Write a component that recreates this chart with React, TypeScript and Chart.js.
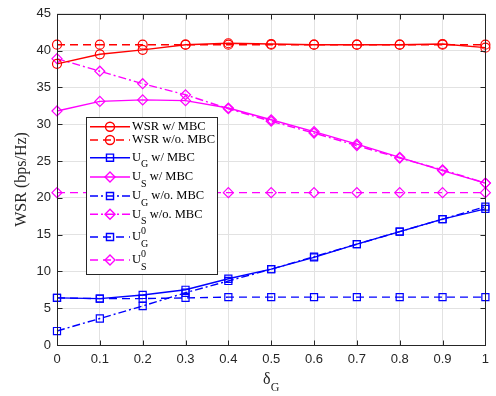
import React, { useEffect, useRef } from 'react';
import { Chart, registerables } from 'chart.js';

Chart.register(...registerables);

// ---- data ----
const deltaG = ['0', '0.1', '0.2', '0.3', '0.4', '0.5', '0.6', '0.7', '0.8', '0.9', '1'];
const yTicks = [0, 5, 10, 15, 20, 25, 30, 35, 40, 45];
const wsrWithMBC = [38.2, 39.5, 40.1, 40.8, 41.0, 40.9, 40.8, 40.8, 40.8, 40.9, 40.4];
const wsrWithoutMBC = [40.8, 40.8, 40.8, 40.8, 40.8, 40.8, 40.8, 40.8, 40.8, 40.8, 40.8];
const ugWithMBC = [6.4, 6.3, 6.8, 7.5, 9.0, 10.3, 11.9, 13.7, 15.4, 17.1, 18.5];
const usWithMBC = [31.8, 33.1, 33.3, 33.2, 32.2, 30.6, 29.0, 27.3, 25.5, 23.7, 22.0];
const ugWithoutMBC = [1.9, 3.6, 5.3, 7.1, 8.7, 10.3, 12.0, 13.7, 15.4, 17.1, 18.8];
const usWithoutMBC = [38.9, 37.2, 35.5, 34.0, 32.1, 30.4, 28.8, 27.1, 25.4, 23.8, 22.0];
const ugBaseline = [6.4, 6.3, 6.3, 6.4, 6.5, 6.5, 6.5, 6.5, 6.5, 6.5, 6.5];
const usBaseline = [20.7, 20.7, 20.7, 20.7, 20.7, 20.7, 20.7, 20.7, 20.7, 20.7, 20.7];

// legend labels: main, subscript, superscript, rest
const legendLabels = [
  { main: 'WSR w/ MBC', sub: '', sup: '', rest: '' },
  { main: 'WSR w/o. MBC', sub: '', sup: '', rest: '' },
  { main: 'U', sub: 'G', sup: '', rest: ' w/ MBC' },
  { main: 'U', sub: 'S', sup: '', rest: ' w/ MBC' },
  { main: 'U', sub: 'G', sup: '', rest: ' w/o. MBC' },
  { main: 'U', sub: 'S', sup: '', rest: ' w/o. MBC' },
  { main: 'U', sub: 'G', sup: '0', rest: '' },
  { main: 'U', sub: 'S', sup: '0', rest: '' },
];

const RED = '#ff0000';
const BLUE = '#0000ff';
const MAGENTA = '#ff00ff';
const SOLID: number[] = [];
const DASH = [8, 5];
const DASHDOT = [8, 3, 2, 3];

const SERIF = '"Liberation Serif", "Times New Roman", serif';
const SANS = '"Liberation Sans", Arial, sans-serif';
const AXIS_COLOR = '#262626';

function drawMarker(ctx: CanvasRenderingContext2D, style: string, x: number, y: number, r: number) {
  ctx.beginPath();
  if (style === 'circle') {
    ctx.arc(x, y, r, 0, Math.PI * 2);
  } else if (style === 'rect') {
    const s = r * Math.SQRT1_2;
    ctx.rect(x - s, y - s, 2 * s, 2 * s);
  } else {
    ctx.moveTo(x, y - r);
    ctx.lineTo(x + r, y);
    ctx.lineTo(x, y + r);
    ctx.lineTo(x - r, y);
    ctx.closePath();
  }
  ctx.stroke();
}

const framePlugin = {
  id: 'matlabFrame',
  afterDatasetsDraw(chart: any) {
    const { ctx, chartArea: ca, scales } = chart;
    ctx.save();
    ctx.strokeStyle = AXIS_COLOR;
    ctx.lineWidth = 1;
    ctx.setLineDash([]);
    const L = Math.round(ca.left) + 0.5, R = Math.round(ca.right) + 0.5;
    const T = Math.round(ca.top) + 0.5, B = Math.round(ca.bottom) + 0.5;
    ctx.strokeRect(L, T, R - L, B - T);
    const tl = 5;
    ctx.beginPath();
    scales.x.ticks.forEach((_t: any, i: number) => {
      const px = Math.round(scales.x.getPixelForTick(i)) + 0.5;
      ctx.moveTo(px, B); ctx.lineTo(px, B - tl);
      ctx.moveTo(px, T); ctx.lineTo(px, T + tl);
    });
    scales.y.ticks.forEach((t: any) => {
      const py = Math.round(scales.y.getPixelForValue(t.value)) + 0.5;
      ctx.moveTo(L, py); ctx.lineTo(L + tl, py);
      ctx.moveTo(R, py); ctx.lineTo(R - tl, py);
    });
    ctx.stroke();

    // y title
    ctx.fillStyle = AXIS_COLOR;
    ctx.font = `16px ${SERIF}`;
    ctx.textAlign = 'center';
    ctx.textBaseline = 'middle';
    ctx.translate(22, (ca.top + ca.bottom) / 2);
    ctx.rotate(-Math.PI / 2);
    ctx.fillText('WSR (bps/Hz)', 0, 0);
    ctx.setTransform(1, 0, 0, 1, 0, 0);

    // x title delta_G
    const cx = (ca.left + ca.right) / 2;
    ctx.font = `16px ${SERIF}`;
    const wd = ctx.measureText('δ').width;
    ctx.font = `12px ${SERIF}`;
    const wg = ctx.measureText('G').width;
    const start = cx - (wd + wg) / 2;
    ctx.textAlign = 'left';
    ctx.font = `16px ${SERIF}`;
    ctx.fillText('δ', start, ca.bottom + 35);
    ctx.font = `12px ${SERIF}`;
    ctx.fillText('G', start + wd, ca.bottom + 43);
    ctx.restore();
  },
};

const rowOffsets = [9.7, 23, 40.7, 60, 79, 97.3, 120, 143];

const legendPlugin = {
  id: 'matlabLegend',
  afterDraw(chart: any) {
    const { ctx, chartArea: ca } = chart;
    const left = Math.round(ca.left + 29), top = Math.round(ca.top + 103);
    const w = 131, h = 157;
    ctx.save();
    ctx.fillStyle = '#ffffff';
    ctx.fillRect(left, top, w, h);
    ctx.strokeStyle = AXIS_COLOR;
    ctx.lineWidth = 1;
    ctx.setLineDash([]);
    ctx.strokeRect(left + 0.5, top + 0.5, w, h);
    chart.data.datasets.forEach((ds: any, i: number) => {
      const y = top + rowOffsets[i];
      ctx.strokeStyle = ds.borderColor;
      ctx.lineWidth = ds.borderWidth;
      ctx.setLineDash(ds.borderDash || []);
      ctx.beginPath();
      ctx.moveTo(left + 4, y);
      ctx.lineTo(left + 44, y);
      ctx.stroke();
      ctx.setLineDash([]);
      drawMarker(ctx, ds.pointStyle, left + 24, y, ds.pointRadius);
      const lab = legendLabels[i];
      let x = left + 46;
      ctx.fillStyle = '#000';
      ctx.textAlign = 'left';
      ctx.textBaseline = 'middle';
      ctx.font = `12.5px ${SERIF}`;
      ctx.fillText(lab.main, x, y);
      x += ctx.measureText(lab.main).width;
      let extra = 0;
      ctx.font = `10px ${SERIF}`;
      if (lab.sup) {
        ctx.fillText(lab.sup, x, y - 6);
        extra = ctx.measureText(lab.sup).width;
      }
      if (lab.sub) {
        ctx.fillText(lab.sub, x, y + 7);
        extra = Math.max(extra, ctx.measureText(lab.sub).width);
      }
      x += extra;
      if (lab.rest) {
        ctx.font = `12.5px ${SERIF}`;
        ctx.fillText(lab.rest, x, y);
      }
    });
    ctx.restore();
  },
};

function series(data: number[], color: string, dash: number[], style: string, r: number) {
  return {
    data,
    borderColor: color,
    backgroundColor: 'transparent',
    pointBackgroundColor: 'transparent',
    pointBorderColor: color,
    pointBorderWidth: 1.2,
    borderWidth: 1.4,
    borderDash: dash,
    pointStyle: style,
    pointRadius: r,
    tension: 0,
    clip: false as any,
  };
}

export default function App() {
  const ref = useRef<HTMLCanvasElement | null>(null);
  useEffect(() => {
    if (!ref.current) return;
    const chart = new Chart(ref.current, {
      type: 'line',
      data: {
        labels: deltaG,
        datasets: [
          series(wsrWithMBC, RED, SOLID, 'circle', 4.5),
          series(wsrWithoutMBC, RED, DASH, 'circle', 4.5),
          series(ugWithMBC, BLUE, SOLID, 'rect', 5),
          series(usWithMBC, MAGENTA, SOLID, 'rectRot', 5),
          series(ugWithoutMBC, BLUE, DASHDOT, 'rect', 5),
          series(usWithoutMBC, MAGENTA, DASHDOT, 'rectRot', 5),
          series(ugBaseline, BLUE, DASH, 'rect', 5),
          series(usBaseline, MAGENTA, DASH, 'rectRot', 5),
        ] as any,
      },
      options: {
        responsive: false,
        animation: false,
        layout: { padding: { top: 8, right: 7, left: 0, bottom: 0 } },
        plugins: { legend: { display: false }, tooltip: { enabled: false } },
        scales: {
          x: {
            type: 'category',
            offset: false,
            grid: { color: '#e2e2e2', drawTicks: false },
            border: { display: false },
            ticks: {
              color: AXIS_COLOR,
              font: { family: SANS, size: 13 },
              padding: 7,
              maxRotation: 0,
              autoSkip: false,
            },
            afterFit: (s: any) => { s.height = 51; },
          },
          y: {
            min: yTicks[0],
            max: yTicks[yTicks.length - 1],
            afterBuildTicks: (s: any) => { s.ticks = yTicks.map((v) => ({ value: v })); },
            grid: { color: '#e2e2e2', drawTicks: false },
            border: { display: false },
            ticks: {
              color: AXIS_COLOR,
              font: { family: SANS, size: 13 },
              padding: 6,
            },
            afterFit: (s: any) => { s.width = 57; },
          },
        },
      } as any,
      plugins: [framePlugin, legendPlugin],
    });
    return () => chart.destroy();
  }, []);
  return (
    <div style={{ position: 'fixed', left: 0, top: 0, width: 496, height: 396, background: '#fff' }}>
      <canvas ref={ref} width={496} height={396} style={{ display: 'block' }} />
    </div>
  );
}
